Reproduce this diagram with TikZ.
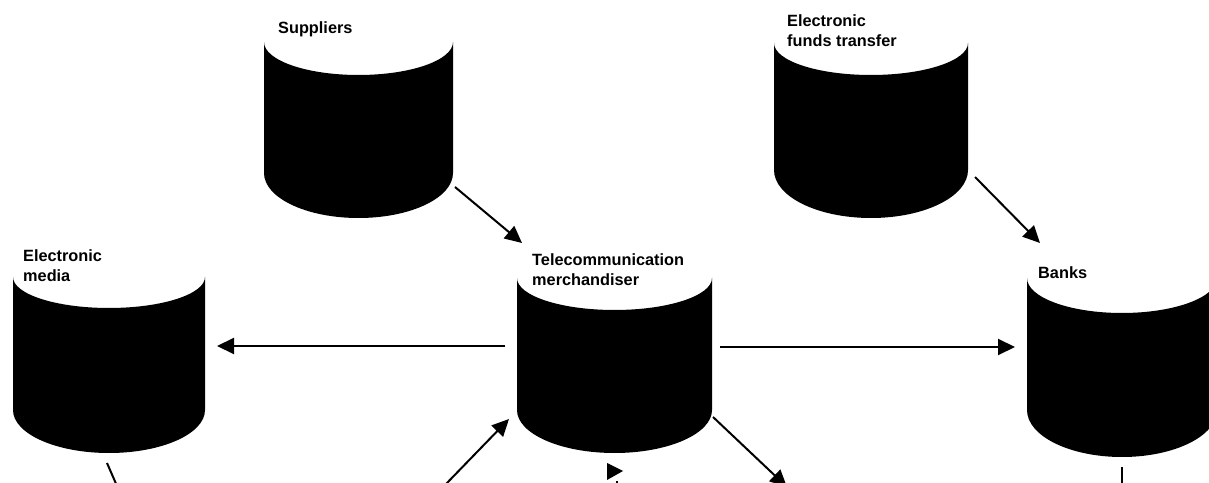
\documentclass[tikz,border=0pt]{standalone}
\usepackage{fontspec}
\setmainfont{Liberation Sans}
\usetikzlibrary{arrows.meta}
\newcommand{\twoline}[2]{\vtop{\baselineskip=20pt\hbox{#1}\hbox{#2}}}
% #1 name, #2 left x, #3 right x, #4 top corner y, #5 top depth, #6 bottom corner y, #7 bottom depth
\newcommand{\mycyl}[7]{%
  \pgfmathsetmacro{\myrx}{(#3-#2)/2}%
  \pgfmathsetmacro{\myw}{#3-#2}%
  \pgfmathsetmacro{\myh}{#4+#5-#6+#7}%
  \pgfmathsetmacro{\mylow}{#6-#7}%
  \fill[cylfill] (#2,#4) -- (#2,#6) arc[start angle=180,end angle=360,x radius=\myrx pt,y radius=#7pt]
    -- (#3,#4) arc[start angle=0,end angle=-180,x radius=\myrx pt,y radius=#5pt] -- cycle;
  \node[inner sep=0pt, minimum width=\myw pt, minimum height=\myh pt, anchor=south west] (#1) at (#2,\mylow) {};
}
\begin{document}
\begin{tikzpicture}[x=1pt,y=1pt,
  cylfill/.style={fill=black},
  lbl/.style={font=\fontsize{16.3}{20}\selectfont\bfseries, inner sep=0pt, anchor=base west},
  conn/.style={line width=2pt, -{Triangle[length=17pt,width=16pt]}},
  plain/.style={line width=2pt}]
\useasboundingbox (0,0) rectangle (1209,482);
\fill[white] (0,0) rectangle (1209,482);
\clip (0,0) rectangle (1209,482);

% cylinders
\mycyl{sup}{264}{453}{440}{33}{309}{45}
\mycyl{eft}{774}{968}{439}{32}{312}{48}
\mycyl{med}{13}{205}{205}{31}{72}{43}
\mycyl{tel}{517}{712}{204}{32}{72}{43}
\mycyl{bnk}{1027}{1217}{204}{35}{72}{47}

% labels
\node[lbl] (supL) at (278,448) {Suppliers};
\node[lbl] (eftL) at (787,455) {\twoline{Electronic}{funds transfer}};
\node[lbl] (medL) at (23,220) {\twoline{Electronic}{media}};
\node[lbl] (telL) at (532,216) {\twoline{Telecommunication}{merchandiser}};
\node[lbl] (bnkL) at (1038,203) {Banks};

% connector end points
\coordinate (supOut) at (455,295);
\coordinate (telInA) at (522,239);
\coordinate (eftOut) at (975,305);
\coordinate (bnkIn) at (1040,239);
\coordinate (telOutL) at (505,136);
\coordinate (medIn) at (217,136);
\coordinate (telOutR) at (720,135);
\coordinate (bnkInL) at (1015,135);
\coordinate (medOut) at (107,19);
\coordinate (medEnd) at (117,-4);
\coordinate (lowA) at (446,-2);
\coordinate (telInB) at (509,63);
\coordinate (telOutB) at (713,65);
\coordinate (lowB) at (787,-5);
\coordinate (bnkOut) at (1122,15);
\coordinate (bnkEnd) at (1122,-3);
\coordinate (lowC) at (617,-3);
\coordinate (lowCtop) at (617,1);

% connectors
\draw[conn] (supOut) -- (telInA);
\draw[conn] (eftOut) -- (bnkIn);
\draw[conn] (telOutL) -- (medIn);
\draw[conn] (telOutR) -- (bnkInL);
\draw[plain] (medOut) -- (medEnd);
\draw[conn] (lowA) -- (telInB);
\draw[conn] (telOutB) -- (lowB);
\draw[plain] (bnkOut) -- (bnkEnd);
\draw[plain] (lowC) -- (lowCtop);
\fill (607,19) -- (607,2) -- (623,11) -- cycle;
\end{tikzpicture}
\end{document}
